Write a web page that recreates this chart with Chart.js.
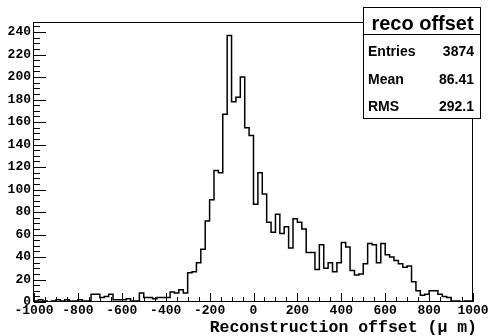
<!DOCTYPE html>
<html>
<head>
<meta charset="utf-8">
<script src="https://cdn.jsdelivr.net/npm/chart.js@4/dist/chart.umd.min.js"></script>
<style>
html,body{margin:0;padding:0;background:#fff;}
canvas{display:block;}
</style>
</head>
<body>
<canvas id="c" width="491" height="336"></canvas>
<script>
// ---- data ----
const binLow = -1000;
const binWidth = 20;
const counts = [
  1, 2, 1, 0, 1, 2, 1, 2, 1, 1,
  2, 1, 1, 7, 7, 4, 5, 7, 2, 2,
  2, 3, 1, 1, 8, 4, 4, 3, 4, 4,
  4, 9, 8, 11, 8, 26, 27, 35, 47, 72,
  91, 117, 115, 167, 237, 178, 182, 200, 155, 148,
  87, 115, 96, 71, 62, 78, 61, 67, 48, 74,
  71, 65, 44, 44, 29, 51, 30, 35, 27, 35,
  53, 49, 28, 24, 25, 34, 52, 51, 35, 52,
  42, 40, 37, 34, 31, 32, 18, 10, 6, 7,
  10, 10, 7, 5, 4, 1, 1, 0, 1, 1
];
const xTickValues = [-1000, -800, -600, -400, -200, 0, 200, 400, 600, 800, 1000];
const yTickValues = [0, 20, 40, 60, 80, 100, 120, 140, 160, 180, 200, 220, 240];
const xTitle = 'Reconstruction offset (\u03bc m)';
const statsTitle = 'reco offset';
const statsLabels = ['Entries', 'Mean', 'RMS'];
const statsValues = ['3874', '86.41', '292.1'];

// build step points (left edges + closing right edge)
const points = counts.map((c, i) => ({x: binLow + i * binWidth, y: c}));
points.push({x: binLow + counts.length * binWidth, y: counts[counts.length - 1]});

const monoFont = {family: '"Liberation Mono", "DejaVu Sans Mono", monospace', weight: 'bold', size: 13};

const decor = {
  id: 'decor',
  afterDraw(chart) {
    const {ctx, chartArea: a, scales: {x, y}} = chart;
    ctx.save();
    ctx.strokeStyle = '#000';
    ctx.lineWidth = 1;
    // frame
    ctx.strokeRect(Math.round(a.left) - 0.5, Math.round(a.top) + 0.5,
                   Math.round(a.right - a.left), Math.round(a.bottom - a.top) - 1);
    // x ticks (inside, from bottom)
    ctx.beginPath();
    for (let v = x.min; v <= x.max; v += 50) {
      const px = Math.round(x.getPixelForValue(v)) + 0.5;
      const len = (v % 200 === 0) ? 9 : 5;
      ctx.moveTo(px, a.bottom);
      ctx.lineTo(px, a.bottom - len);
    }
    // y ticks (inside, from left)
    for (let v = 0; v <= y.max; v += 5) {
      const py = Math.round(y.getPixelForValue(v)) + 0.5;
      const len = (v % 20 === 0) ? 12 : 6;
      ctx.moveTo(a.left, py);
      ctx.lineTo(a.left + len, py);
    }
    ctx.stroke();

    // x axis title
    ctx.fillStyle = '#000';
    ctx.font = 'bold 16.5px "Liberation Mono", "DejaVu Sans Mono", monospace';
    ctx.textAlign = 'right';
    ctx.textBaseline = 'middle';
    ctx.fillText(xTitle, a.right + 4, 328);

    // stats box
    const bx = 363, by = 7, bw = 117, bh = 111;
    ctx.fillStyle = '#fff';
    ctx.fillRect(bx, by, bw, bh);
    ctx.strokeRect(bx + 0.5, by + 0.5, bw, bh);
    ctx.beginPath();
    ctx.moveTo(bx, 34.5);
    ctx.lineTo(bx + bw, 34.5);
    ctx.stroke();
    ctx.fillStyle = '#000';
    ctx.textBaseline = 'alphabetic';
    ctx.textAlign = 'center';
    ctx.font = 'bold 20px "Liberation Sans", Arial, sans-serif';
    ctx.fillText(statsTitle, bx + bw / 2 + 1, 30);
    ctx.font = 'bold 14px "Liberation Sans", Arial, sans-serif';
    const rows = [56, 84, 111];
    statsLabels.forEach((lab, i) => {
      ctx.textAlign = 'left';
      ctx.fillText(lab, bx + 5, rows[i]);
      ctx.textAlign = 'right';
      ctx.fillText(statsValues[i], bx + bw - 6, rows[i]);
    });
    ctx.restore();
  }
};

new Chart(document.getElementById('c'), {
  type: 'line',
  data: {
    datasets: [{
      data: points,
      stepped: 'before',
      borderColor: '#000',
      borderWidth: 1.5,
      pointRadius: 0,
      fill: false,
      tension: 0
    }]
  },
  options: {
    responsive: false,
    animation: false,
    devicePixelRatio: 1,
    layout: {padding: {left: 0, top: 22, right: 18, bottom: 0}},
    plugins: {legend: {display: false}, tooltip: {enabled: false}},
    scales: {
      x: {
        type: 'linear',
        min: -1000,
        max: 1000,
        grid: {display: false, drawTicks: false},
        border: {display: false},
        afterBuildTicks: s => { s.ticks = xTickValues.map(v => ({value: v})); },
        afterFit: s => { s.height = 34; },
        ticks: {
          autoSkip: false,
          maxRotation: 0,
          padding: 1,
          color: '#000',
          font: monoFont,
          callback: v => String(v)
        }
      },
      y: {
        type: 'linear',
        min: 0,
        max: 249,
        grid: {display: false, drawTicks: false},
        border: {display: false},
        afterBuildTicks: s => { s.ticks = yTickValues.map(v => ({value: v})); },
        afterFit: s => { s.width = 34; },
        ticks: {
          autoSkip: false,
          padding: 3,
          color: '#000',
          font: monoFont,
          callback: v => String(v)
        }
      }
    }
  },
  plugins: [decor]
});
</script>
</body>
</html>
